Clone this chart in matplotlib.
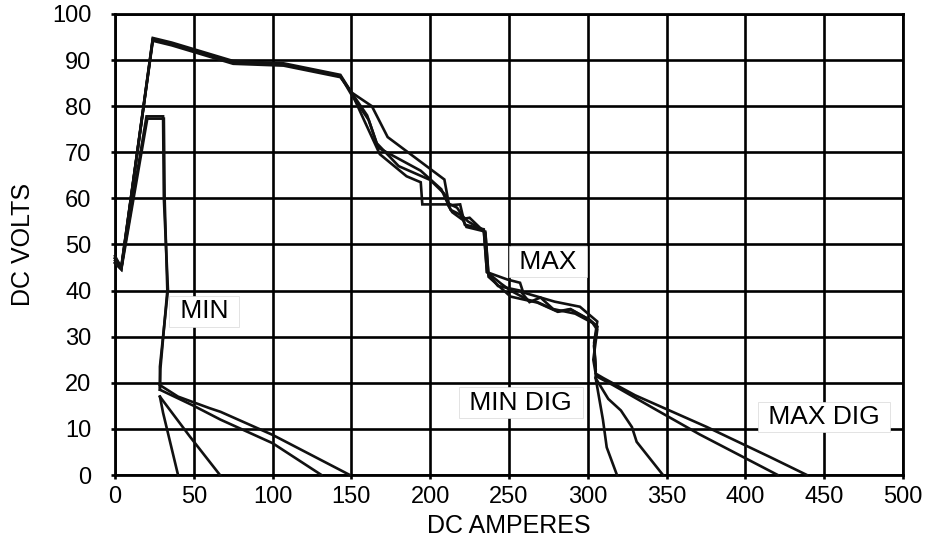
import matplotlib
matplotlib.use("Agg")
import matplotlib.pyplot as plt

plt.rcParams['font.family'] = ['Liberation Sans', 'DejaVu Sans']

# ---- data (DC amperes, DC volts) ----
max_x1 = [0, 4, 24, 36, 75, 107, 143, 150, 163, 173, 209, 212, 219, 222, 234, 236, 249, 257, 259, 268, 279, 295, 306, 304, 305]
max_y1 = [47.5, 45, 94.8, 93.8, 89.8, 89.3, 86.8, 83, 80, 73.3, 64.1, 58.5, 58.7, 54.3, 53.3, 44, 42.4, 41.7, 39.6, 38.7, 37.6, 36.5, 33.3, 28.7, 23]
max_x2 = [0, 4, 24, 36, 75, 107, 143, 150, 160, 167, 194, 207, 211, 217, 221, 224, 234, 236, 245, 251, 262, 268, 281, 289, 301, 306, 304, 305]
max_y2 = [46.5, 44.8, 94.5, 93.5, 89.5, 89.0, 86.5, 83, 78, 71, 66, 62, 59, 58, 56, 55, 53, 44, 41.5, 40, 38, 37.5, 35.5, 36, 33.7, 32.2, 28, 23]
max_x3 = [0, 4, 24, 36, 75, 107, 143, 150, 158, 168, 185, 194, 195, 211, 214, 220, 225, 235, 237, 251, 268, 281, 289, 301, 306, 304, 305]
max_y3 = [47, 45.2, 94.2, 93.2, 89.2, 88.8, 86.3, 83, 77, 69.6, 64.8, 63.5, 58.7, 58.7, 57, 55.5, 55.8, 52.5, 43, 38.7, 37.4, 35.4, 35.9, 33.7, 32.2, 28, 22.5]
max_x4 = [0, 4, 24, 36, 75, 107, 143, 150, 161, 166, 180, 200, 209, 213, 219, 223, 235, 237, 243, 257, 263, 270, 278, 292, 303, 306, 303.5, 305]
max_y4 = [46, 44.6, 94.6, 93.6, 89.6, 89.1, 86.6, 82.5, 77, 72, 67, 64, 61, 57.5, 56.5, 53.8, 52.8, 43.5, 41, 40, 37.5, 38.5, 36, 35, 33, 31.5, 25, 22]

min_x1 = [0, 4, 20, 30.5, 31, 33.6, 28.5, 28.5]
min_y1 = [47, 45, 77.8, 77.8, 60, 40.2, 23.5, 19]
min_x2 = [0, 4, 20.5, 31, 31.5, 33.2, 28.8, 28.5]
min_y2 = [46, 44.6, 77.3, 77.3, 60, 40.0, 23.0, 18.5]

mindig_xa = [28.5, 40, 60, 67, 100, 149]
mindig_ya = [19.5, 17, 14.5, 13.7, 8.7, 0]
mindig_xb = [28.5, 50, 67, 100, 131]
mindig_yb = [18.5, 15, 12, 6.9, 0]
mindig_xc = [28.5, 47.6, 66.6]
mindig_yc = [17, 8.3, 0]
mindig_xd = [28.5, 30.5, 40]
mindig_yd = [17, 13.5, 0]

maxdig_xa = [305, 310, 330, 375.6, 415.6, 439]
maxdig_ya = [22, 21, 17.3, 10.4, 3.9, 0]
maxdig_xb = [305, 316, 340, 371, 420.5]
maxdig_yb = [21.5, 19.5, 14.8, 8.8, 0]
maxdig_xc = [305, 313, 321, 328, 331, 347.7]
maxdig_yc = [21, 16.5, 14, 10.4, 7.2, 0]
maxdig_xd = [305, 309.6, 312, 318.5]
maxdig_yd = [21, 12, 6, 0]

x_ticks = [0, 50, 100, 150, 200, 250, 300, 350, 400, 450, 500]
y_ticks = [0, 10, 20, 30, 40, 50, 60, 70, 80, 90, 100]

labels = ["MIN", "MAX", "MIN DIG", "MAX DIG"]
label_x = [56.5, 274.7, 257.6, 450]
label_y = [35.5, 46.3, 15.7, 12.6]

# ---- figure ----
fig = plt.figure(figsize=(9.4, 5.47), dpi=100)
ax = fig.add_axes([115/940, 1-475/547, (903-115)/940, (475-14)/547])
ax.set_xlim(0, 500)
ax.set_ylim(0, 100)
ax.set_xticks(x_ticks)
ax.set_yticks(y_ticks)
ax.grid(True, color='black', linewidth=1.9, zorder=1)
ax.set_axisbelow(True)
for s in ax.spines.values():
    s.set_linewidth(2.0)
    s.set_color('black')
ax.tick_params(direction='out', length=3, width=1.9, labelsize=17, colors='black')
ax.tick_params(axis='y', pad=14)
ax.tick_params(axis='x', pad=5)

lw = 1.9
series = [(max_x1, max_y1), (max_x2, max_y2), (max_x3, max_y3), (max_x4, max_y4),
          (min_x1, min_y1), (min_x2, min_y2),
          (mindig_xa, mindig_ya), (mindig_xb, mindig_yb), (mindig_xc, mindig_yc), (mindig_xd, mindig_yd),
          (maxdig_xa, maxdig_ya), (maxdig_xb, maxdig_yb), (maxdig_xc, maxdig_yc), (maxdig_xd, maxdig_yd)]
for xs, ys in series:
    ax.plot(xs, ys, color='#111111', linewidth=lw, zorder=4, solid_joinstyle='miter', clip_on=False)

for t, x, y in zip(labels, label_x, label_y):
    ax.text(x, y, " " + t + " ", ha='center', va='center', fontsize=19, zorder=3,
            bbox=dict(boxstyle='square,pad=0.12', facecolor='white', edgecolor='#d8d8d8', linewidth=0.5))

ax.set_xlabel("DC AMPERES", fontsize=18, labelpad=4)
ax.set_ylabel("DC VOLTS", fontsize=18, labelpad=12)

fig.savefig("out.png", dpi=100)
